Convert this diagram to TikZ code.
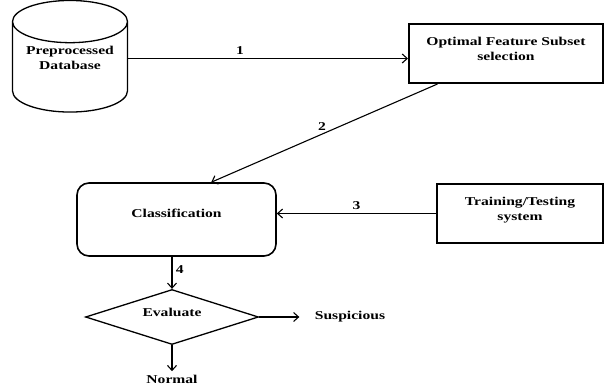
\documentclass[tikz,border=0pt]{standalone}
\usepackage{fontspec}
\setmainfont[FakeStretch=1.3]{Liberation Serif}
\usetikzlibrary{shapes,arrows.meta,positioning}

\begin{document}
\begin{tikzpicture}[x=1pt, y=-1pt,
    every node/.style={font=\bfseries\fontsize{12}{15}\selectfont, align=center},
    blk/.style={draw, line width=1.6pt, inner sep=3pt},
    arr/.style={-{Straight Barb[length=5pt,width=9pt]}, line width=1.1pt}]
    \useasboundingbox (0,0) rectangle (605,387);
    % Blocks
    \node[blk, cylinder, shape border rotate=90, aspect=0.45, minimum width=115, minimum height=91, line width=1.3pt, text depth=25pt] (db) at (70,70.5) {Preprocessed\\Database};
    \node[blk, line width=2pt, minimum width=194, minimum height=59, text depth=10pt] (opt) at (506,53.5) {Optimal Feature Subset\\selection};
    \node[blk, rounded corners=12pt, minimum width=199, minimum height=73, text depth=12pt] (cls) at (176.5,219.5) {Classification};
    \node[blk, minimum width=166, minimum height=59, text depth=10pt] (trn) at (520,213.5) {Training/Testing\\system};
    \node[blk, diamond, line width=1.3pt, aspect=3.15, minimum width=173, minimum height=55, text depth=9pt] (eval) at (172,317) {Evaluate};
    \node (sus) at (350,317) {Suspicious};
    \node (nrm) at (172,379) {Normal};

    % Arrows
    \draw[arr] ([yshift=12pt]db.east) -- node[above, pos=0.4] {1} ([yshift=12pt]db.east -| opt.west);
    \draw[arr] (opt.204) -- node[above, pos=0.51] {2} (cls.47);
    \draw[arr] (trn.west) -- node[above, pos=0.5] {3} (trn.west -| cls.east);
    \draw[arr] (cls.south -| eval.north) -- node[right, pos=0.4] {4} (eval.north);
    \draw[arr, shorten >=12pt] (eval.east) -- (sus.west);
    \draw[arr] (eval.south) -- (nrm.north);
\end{tikzpicture}
\end{document}
